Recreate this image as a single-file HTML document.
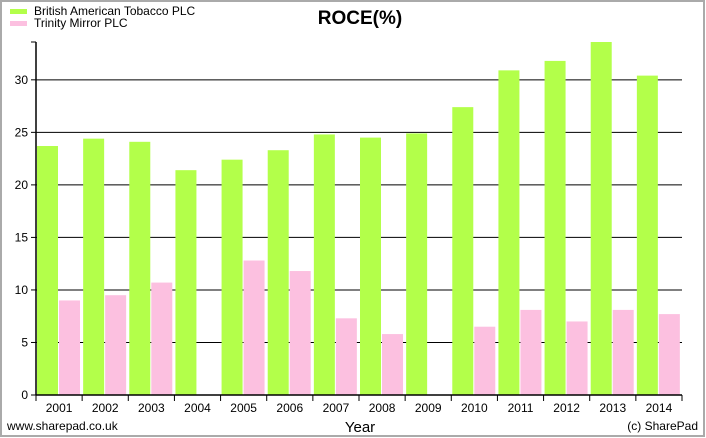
<!DOCTYPE html>
<html><head><meta charset="utf-8"><style>
body{margin:0;background:#fff;font-family:"Liberation Sans",Arial,sans-serif}
svg{display:block}
</style></head><body>
<svg id="c" width="706" height="438" xmlns="http://www.w3.org/2000/svg" font-family="Liberation Sans, Arial, sans-serif">
<rect x="1" y="1" width="703" height="435" fill="#fff" stroke="#aaa" stroke-width="2"/>
<rect x="10" y="9" width="17" height="5" fill="#b3ff4a"/>
<text x="34" y="15" font-size="12">British American Tobacco PLC</text>
<rect x="10" y="21" width="17" height="5" fill="#fcc0e0"/>
<text x="34" y="27" font-size="12">Trinity Mirror PLC</text>
<text x="360" y="24" font-size="19" font-weight="bold" text-anchor="middle">ROCE(%)</text>
<g id="grid"></g><g id="bars"></g><g id="axes"></g>
<text x="360" y="432" font-size="15" text-anchor="middle">Year</text>
<text x="7" y="430" font-size="12">www.sharepad.co.uk</text>
<text x="698" y="430" font-size="12" text-anchor="end">(c) SharePad</text>
</svg>
<script>
const years=["2001","2002","2003","2004","2005","2006","2007","2008","2009","2010","2011","2012","2013","2014"];
const bat=[23.7,24.4,24.1,21.4,22.4,23.3,24.8,24.5,24.9,27.4,30.9,31.8,33.6,30.4];
const trinity=[9.0,9.5,10.7,0,12.8,11.8,7.3,5.8,0,6.5,8.1,7.0,8.1,7.7];
const yTicks=[0,5,10,15,20,25,30];
const NS="http://www.w3.org/2000/svg";
const X0=36,X1=682,Y0=395,YT=42,YMAX=33.6;
const gw=(X1-X0)/years.length;
const y=v=>Y0-(v/YMAX)*(Y0-YT);
const xg=i=>X0+i*gw;
function mk(t,a,p){const e=document.createElementNS(NS,t);for(const k in a)e.setAttribute(k,a[k]);p.appendChild(e);return e;}
const grid=document.getElementById('grid'),bars=document.getElementById('bars'),axes=document.getElementById('axes');
yTicks.forEach(v=>{
 if(v>0){const l=mk('line',{x1:X0,x2:X1,y1:y(v),y2:y(v),stroke:'#000','stroke-width':1},grid);
 
 }
 const tk=mk('line',{x1:X0-5,x2:X0,y1:y(v),y2:y(v),stroke:'#000'},axes);
 
 
 const t=mk('text',{x:X0-8,y:y(v)+4,'font-size':12,'text-anchor':'end'},axes);t.textContent=v;
 
 
});
years.forEach((yr,i)=>{
 const x=xg(i);
 const b=mk('rect',{x:x+1,y:y(bat[i]),width:21,height:Y0-y(bat[i]),fill:'#b3ff4a'},bars);
 
 
 if(trinity[i]>0){const p=mk('rect',{x:x+23,y:y(trinity[i]),width:21,height:Y0-y(trinity[i]),fill:'#fcc0e0'},bars);
 
 }
 const tk=mk('line',{x1:x,x2:x,y1:Y0,y2:Y0+6,stroke:'#000'},axes);
 
 
 const t=mk('text',{x:x+gw/2,y:Y0+17,'font-size':12,'text-anchor':'middle'},axes);t.textContent=yr;
 
 
});
const lt=mk('line',{x1:X1,x2:X1,y1:Y0,y2:Y0+6,stroke:'#000'},axes);


const ya=mk('line',{x1:X0,x2:X0,y1:YT,y2:Y0,stroke:'#000','stroke-width':1.5},axes);


const tt=mk('line',{x1:X0-5,x2:X0,y1:YT,y2:YT,stroke:'#000'},axes);


const xa=mk('line',{x1:X0,x2:X1,y1:Y0,y2:Y0,stroke:'#000','stroke-width':1.5},axes);


</script>
</body></html>
